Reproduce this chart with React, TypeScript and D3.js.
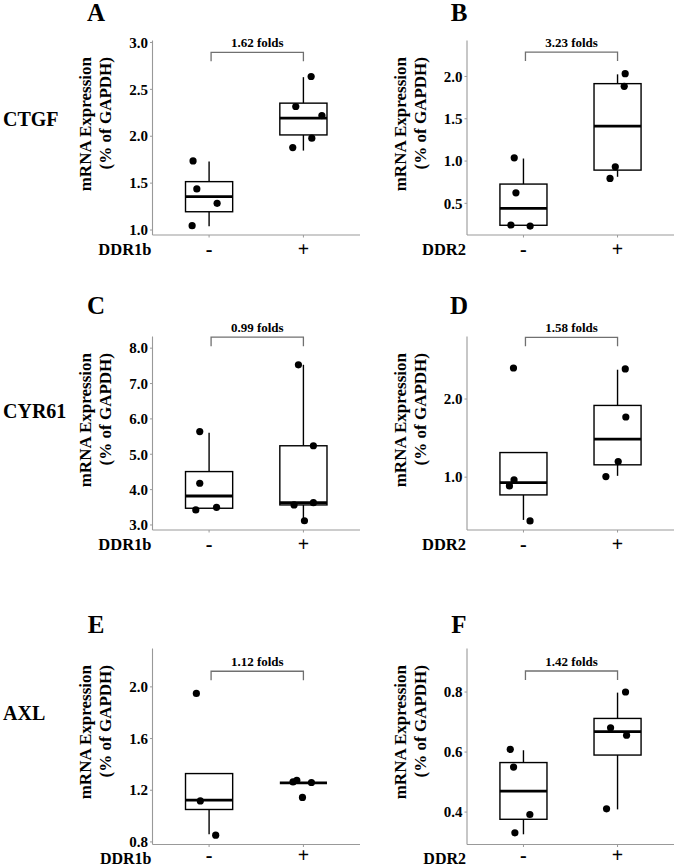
import React from "react";
import * as d3 from "d3";

// ---------- data ----------
const panelIds = ["A", "B", "C", "D", "E", "F"];
const geneLabels = ["CTGF", "CYR61", "AXL"];
const factorLabels = ["DDR1b", "DDR2", "DDR1b", "DDR2", "DDR1b", "DDR2"];
const groupLabels = ["-", "+"];
const foldLabels = ["1.62 folds", "3.23 folds", "0.99 folds", "1.58 folds", "1.12 folds", "1.42 folds"];
const bracketValues = [2.895, 2.288, 8.31, 2.79, 2.121, 0.87];

const yTicksA = [1.0, 1.5, 2.0, 2.5, 3.0];
const yTicksB = [0.5, 1.0, 1.5, 2.0];
const yTicksC = [3.0, 4.0, 5.0, 6.0, 7.0, 8.0];
const yTicksD = [1.0, 2.0];
const yTicksE = [0.8, 1.2, 1.6, 2.0];
const yTicksF = [0.4, 0.6, 0.8];
const yTicks = [yTicksA, yTicksB, yTicksC, yTicksD, yTicksE, yTicksF];
const yDomains = [
  [0.947, 3.021],
  [0.126, 2.425],
  [2.858, 8.33],
  [0.324, 2.8],
  [0.78, 2.297],
  [0.292, 0.945],
];

// box stats: [lower whisker, q1, median, q3, upper whisker] for "-" and "+"
const boxA = [[1.04, 1.195, 1.356, 1.516, 1.73], [1.847, 2.014, 2.193, 2.353, 2.63]];
const boxB = [[0.241, 0.241, 0.441, 0.728, 1.03], [0.814, 0.893, 1.412, 1.915, 2.025]];
const boxC = [[3.473, 3.473, 3.82, 4.51, 5.61], [3.14, 3.567, 3.63, 5.24, 7.53]];
const boxD = [[0.453, 0.773, 0.93, 1.315, 1.315], [1.017, 1.158, 1.487, 1.918, 2.375]];
const boxE = [[0.86, 1.051, 1.123, 1.329, 1.329], [1.257, 1.257, 1.257, 1.257, 1.257]];
const boxF = [[0.326, 0.376, 0.47, 0.565, 0.606], [0.409, 0.59, 0.668, 0.712, 0.798]];
const boxes = [boxA, boxB, boxC, boxD, boxE, boxF];

// points: values and horizontal jitter (in group units)
const ptsA = [
  { v: [1.737, 1.438, 1.285, 1.046], j: [-0.17, -0.13, 0.085, -0.18] },
  { v: [2.637, 2.317, 2.22, 1.979, 1.879], j: [0.082, -0.081, 0.196, 0.089, -0.113] },
];
const ptsB = [
  { v: [1.038, 0.625, 0.244, 0.232], j: [-0.098, -0.08, -0.133, 0.071] },
  { v: [2.033, 1.883, 0.932, 0.795], j: [0.081, 0.071, -0.024, -0.08] },
];
const ptsC = [
  { v: [5.64, 4.18, 3.425, 3.5], j: [-0.099, -0.099, -0.141, 0.079] },
  { v: [7.53, 5.24, 3.63, 3.567, 3.12], j: [-0.053, 0.106, 0.106, -0.099, 0.011] },
];
const ptsD = [
  { v: [2.397, 0.965, 0.888, 0.44], j: [-0.106, -0.1, -0.149, 0.07] },
  { v: [2.385, 1.77, 1.2, 1.008], j: [0.082, 0.088, 0.007, -0.124] },
];
const ptsE = [
  { v: [1.949, 1.117, 0.852], j: [-0.135, -0.093, 0.07] },
  { v: [1.264, 1.26, 1.277, 1.144], j: [-0.11, 0.085, -0.07, -0.01] },
];
const ptsF = [
  { v: [0.609, 0.55, 0.392, 0.331], j: [-0.14, -0.105, 0.068, -0.091] },
  { v: [0.8, 0.681, 0.656, 0.411], j: [0.085, -0.074, 0.096, -0.117] },
];
const points = [ptsA, ptsB, ptsC, ptsD, ptsE, ptsF];

// ---------- layout ----------
const W = 685;
const H = 867;
const FONT = "'Liberation Serif', 'Times New Roman', serif";
const cols = [
  { axisX: 152.5, right: 360, letterX: 96 },
  { axisX: 467, right: 674, letterX: 459 },
];
const rows = [
  { top: 40.5, bottom: 235, letterY: 21, geneY: 126, labDy: 20.5, facDy: 20, facSize: 16.5 },
  { top: 336.5, bottom: 530, letterY: 314, geneY: 418, labDy: 20.5, facDy: 20, facSize: 16.5 },
  { top: 648.5, bottom: 844.5, letterY: 633, geneY: 720, labDy: 17, facDy: 19.5, facSize: 16 },
];
const AXIS_COLOR = "#999999";
const BRACKET_COLOR = "#707070";

function Panel({ idx }: { idx: number }) {
  const c = cols[idx % 2];
  const r = rows[Math.floor(idx / 2)];
  const x = d3.scaleLinear().domain([0.4, 2.6]).range([c.axisX, c.right]);
  const y = d3.scaleLinear().domain(yDomains[idx]).range([r.bottom, r.top]);
  const halfW = 0.25;
  const fmt = d3.format(".1f");
  const bY = y(bracketValues[idx]);
  const x1 = x(1) + 2;
  const x2 = x(2);
  return (
    <g>
      <text x={c.letterX} y={r.letterY} textAnchor="middle" fontFamily={FONT} fontWeight="bold" fontSize={25}>
        {panelIds[idx]}
      </text>
      {/* y title */}
      <g transform={`translate(${c.axisX - 67},${r.top + 16.5}) rotate(-90)`}>
        <text textAnchor="end" dy="0.35em" fontFamily={FONT} fontWeight="bold" fontSize={17}>
          mRNA Expression
        </text>
      </g>
      <g transform={`translate(${c.axisX - 47},${r.top + 16.5}) rotate(-90)`}>
        <text textAnchor="end" dy="0.35em" fontFamily={FONT} fontWeight="bold" fontSize={17}>
          (% of GAPDH)
        </text>
      </g>
      {/* axes */}
      <line x1={c.axisX} x2={c.axisX} y1={r.top} y2={r.bottom} stroke={AXIS_COLOR} strokeWidth={1.1} />
      <line x1={c.axisX} x2={c.right} y1={r.bottom} y2={r.bottom} stroke={AXIS_COLOR} strokeWidth={1.1} />
      {yTicks[idx].map((t) => (
        <g key={t}>
          <line x1={c.axisX - 2.5} x2={c.axisX} y1={y(t)} y2={y(t)} stroke={AXIS_COLOR} strokeWidth={1} />
          <text x={c.axisX - 4.5} y={y(t)} dy="0.35em" textAnchor="end" fontFamily={FONT} fontWeight="bold" fontSize={15}>
            {fmt(t)}
          </text>
        </g>
      ))}
      {groupLabels.map((g, gi) => (
        <g key={g}>
          <line x1={x(gi + 1)} x2={x(gi + 1)} y1={r.bottom} y2={r.bottom + 2.5} stroke={AXIS_COLOR} strokeWidth={1} />
          <text x={x(gi + 1)} y={r.bottom + r.labDy} textAnchor="middle" fontFamily={FONT} fontWeight="bold" fontSize={20}>
            {g}
          </text>
        </g>
      ))}
      <text x={c.axisX - 1} y={r.bottom + r.facDy} textAnchor="end" fontFamily={FONT} fontWeight="bold" fontSize={r.facSize}>
        {factorLabels[idx]}
      </text>
      {/* bracket */}
      <path
        d={`M${x1},${bY + 9}V${bY}H${x2}V${bY + 9}`}
        fill="none"
        stroke={BRACKET_COLOR}
        strokeWidth={1.3}
      />
      <text x={(x1 + x2) / 2} y={bY - 5} textAnchor="middle" fontFamily={FONT} fontWeight="bold" fontSize={13}>
        {foldLabels[idx]}
      </text>
      {/* boxes */}
      {boxes[idx].map((b, gi) => {
        const cx = x(gi + 1);
        const xl = x(gi + 1 - halfW);
        const xr = x(gi + 1 + halfW);
        const [lo, q1, med, q3, hi] = b;
        return (
          <g key={gi}>
            {hi > q3 && <line x1={cx} x2={cx} y1={y(q3)} y2={y(hi)} stroke="#000" strokeWidth={1.4} />}
            {lo < q1 && <line x1={cx} x2={cx} y1={y(q1)} y2={y(lo)} stroke="#000" strokeWidth={1.4} />}
            <rect x={xl} y={y(q3)} width={xr - xl} height={Math.max(0, y(q1) - y(q3))} fill="#fff" stroke="#000" strokeWidth={1.4} />
            <line x1={xl} x2={xr} y1={y(med)} y2={y(med)} stroke="#000" strokeWidth={2.8} />
          </g>
        );
      })}
      {points[idx].map((p, gi) =>
        p.v.map((v, k) => (
          <circle key={`${gi}-${k}`} cx={x(gi + 1 + p.j[k])} cy={y(v)} r={3.6} fill="#000" />
        ))
      )}
    </g>
  );
}

export default function App() {
  return (
    <svg
      width={W}
      height={H}
      viewBox={`0 0 ${W} ${H}`}
      style={{ position: "absolute", left: 0, top: 0, background: "#fff" }}
    >
      <rect width={W} height={H} fill="#fff" />
      {geneLabels.map((g, i) => (
        <text key={g} x={3} y={rows[i].geneY} fontFamily={FONT} fontWeight="bold" fontSize={20}>
          {g}
        </text>
      ))}
      {panelIds.map((_, i) => (
        <Panel key={i} idx={i} />
      ))}
    </svg>
  );
}
